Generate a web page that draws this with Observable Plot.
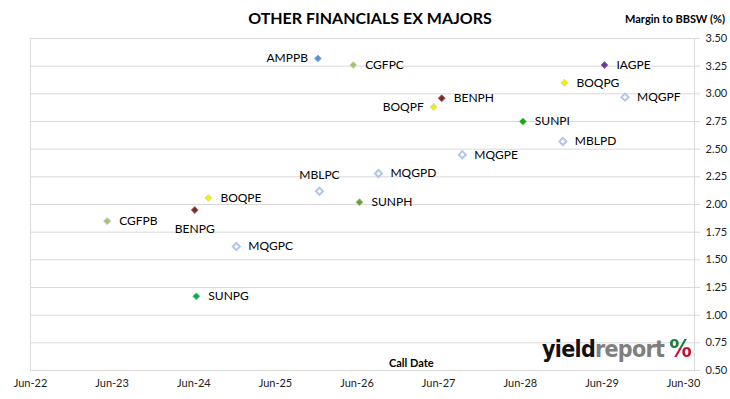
<!DOCTYPE html>
<html>
<head>
<meta charset="utf-8">
<script src="https://cdn.jsdelivr.net/npm/d3@7"></script>
<script src="https://cdn.jsdelivr.net/npm/@observablehq/plot@0.6"></script>
<style>
  html, body { margin: 0; padding: 0; background: #fff; }
  #wrap { position: relative; width: 730px; height: 399px; font-family: Lato, "Noto Sans", sans-serif; overflow: hidden; }
  #wrap svg { position: absolute; left: 0; top: 0; }
  .ov { position: absolute; white-space: nowrap; color: #000; }
  #title { left: 170px; width: 400px; top: 8px; text-align: center; font-size: 16px; font-weight: 700; }
  #ylab { left: 625px; top: 12px; font-size: 11px; font-weight: 700; }
  #xlab { left: 389px; top: 356px; font-size: 11px; font-weight: 700; }
  #logo { left: 542px; top: 334px; font-family: "DejaVu Sans Condensed", "DejaVu Sans", sans-serif; font-weight: 700; font-size: 23px; letter-spacing: -0.7px; }
  #logo .y { color: #111; }
  #logo .r { color: #7f7f7f; }
  #logo .p { background: linear-gradient(to bottom, #1e7b3c 0, #1e7b3c 50%, #c8102e 50%, #c8102e 100%); -webkit-background-clip: text; background-clip: text; color: transparent; margin-left: 5px; font-size: 25px; }
</style>
</head>
<body>
<div id="wrap">
  <div class="ov" id="title">OTHER FINANCIALS EX MAJORS</div>
  <div class="ov" id="ylab">Margin to BBSW (%)</div>
  <div class="ov" id="xlab">Call Date</div>
  <div class="ov" id="logo"><span class="y">yield</span><span class="r">report</span><span class="p">%</span></div>
</div>
<script>
// ---- data ----
const names   = ["AMPPB","CGFPC","IAGPE","BOQPG","MQGPF","BENPH","BOQPF","SUNPI","MBLPD","MQGPE","MQGPD","MBLPC","BOQPE","SUNPH","BENPG","CGFPB","MQGPC","SUNPG"];
const callDates = ["2025-12-08","2026-05-15","2029-06-12","2028-12-15","2029-09-12","2027-06-15","2027-05-10","2028-06-12","2028-12-08","2027-09-15","2026-09-05","2025-12-15","2024-08-05","2026-06-12","2024-06-05","2023-05-10","2024-12-08","2024-06-12"];
const margins = [3.32, 3.26, 3.26, 3.10, 2.97, 2.96, 2.88, 2.75, 2.57, 2.45, 2.28, 2.12, 2.06, 2.02, 1.95, 1.85, 1.62, 1.17];
const issuer  = ["AMP","CGF","IAG","BOQ","MQG","BEN","BOQ","SUN","MBL","MQG","MQG","MBL","BOQ","SUNH","BEN","CGFB","MQG","SUNG"];
const yTicks = [0.50,0.75,1.00,1.25,1.50,1.75,2.00,2.25,2.50,2.75,3.00,3.25,3.50];
const xTickDates = ["2022-06-01","2023-06-01","2024-06-01","2025-06-01","2026-06-01","2027-06-01","2028-06-01","2029-06-01","2030-06-01"];
const xTickLabels = ["Jun-22","Jun-23","Jun-24","Jun-25","Jun-26","Jun-27","Jun-28","Jun-29","Jun-30"];

// ---- styles ----
const fillByIssuer = {AMP:"#5b8fd6", CGF:"#a9c072", CGFB:"#b3c15c", IAG:"#7030a0", BOQ:"#f2f200", MQG:"#ffffff", MBL:"#ffffff", BEN:"#7b2a2a", SUN:"#14a814", SUNH:"#6a9e3c", SUNG:"#10a850"};
const strokeByIssuer = {AMP:"#8fb2e6", CGF:"#c9d9a8", CGFB:"#a9c3e0", IAG:"#9a6cc0", BOQ:"#d8d8a0", MQG:"#b4c6e7", MBL:"#b4c6e7", BEN:"#a06060", SUN:"#50c850", SUNH:"#98c078", SUNG:"#50c080"};
const hollow = new Set(["MQG","MBL"]);
const leftLabel = new Set(["AMPPB","BOQPF"]);
const aboveLabel = new Set(["MBLPC"]);
const belowLabel = new Set(["BENPG"]);

const data = names.map((n, i) => ({name: n, date: new Date(callDates[i]), margin: margins[i], issuer: issuer[i]}));
const ticksX = xTickDates.map(d => new Date(d));
const fmtX = d => xTickLabels[ticksX.findIndex(t => +t === +d)];

const rightData = data.filter(d => !leftLabel.has(d.name) && !aboveLabel.has(d.name) && !belowLabel.has(d.name));

const chart = Plot.plot({
  width: 730,
  height: 399,
  marginLeft: 30,
  marginRight: 36,
  marginTop: 38,
  marginBottom: 29,
  style: {fontFamily: "Lato, 'Noto Sans', sans-serif", fontSize: "11px", background: "transparent"},
  x: {type: "utc", domain: [new Date("2022-06-01"), new Date("2030-07-20")]},
  y: {domain: [0.5, 3.5]},
  color: {type: "identity"},
  marks: [
    Plot.gridY(yTicks, {stroke: "#d9d9d9", strokeOpacity: 1}),
    Plot.frame({stroke: "#d9d9d9"}),
    Plot.axisY(yTicks, {anchor: "right", tickFormat: d3.format(".2f"), tickSize: 5, tickPadding: 6, stroke: "#d9d9d9", strokeOpacity: 1, fill: "#222", fontSize: 11, label: null}),
    Plot.axisX(ticksX, {anchor: "bottom", tickFormat: fmtX, tickSize: 0, tickPadding: 9, fill: "#222", fontSize: 11, label: null}),
    Plot.dot(data.filter(d => !hollow.has(d.issuer)), {x: "date", y: "margin", symbol: "diamond2", r: 3.1,
      fill: d => fillByIssuer[d.issuer], stroke: d => strokeByIssuer[d.issuer], strokeWidth: 1}),
    Plot.dot(data.filter(d => hollow.has(d.issuer)), {x: "date", y: "margin", symbol: "diamond2", r: 3.2,
      fill: "#ffffff", stroke: d => strokeByIssuer[d.issuer], strokeWidth: 2}),
    Plot.text(rightData, {x: "date", y: "margin", text: "name", dx: 12, textAnchor: "start", fontSize: 12, fill: "#000"}),
    Plot.text(data.filter(d => leftLabel.has(d.name)), {x: "date", y: "margin", text: "name", dx: -10, textAnchor: "end", fontSize: 12, fill: "#000"}),
    Plot.text(data.filter(d => aboveLabel.has(d.name)), {x: "date", y: "margin", text: "name", dy: -16, fontSize: 12, fill: "#000"}),
    Plot.text(data.filter(d => belowLabel.has(d.name)), {x: "date", y: "margin", text: "name", dy: 19, fontSize: 12, fill: "#000"})
  ]
});
document.getElementById("wrap").prepend(chart);
</script>
</body>
</html>
